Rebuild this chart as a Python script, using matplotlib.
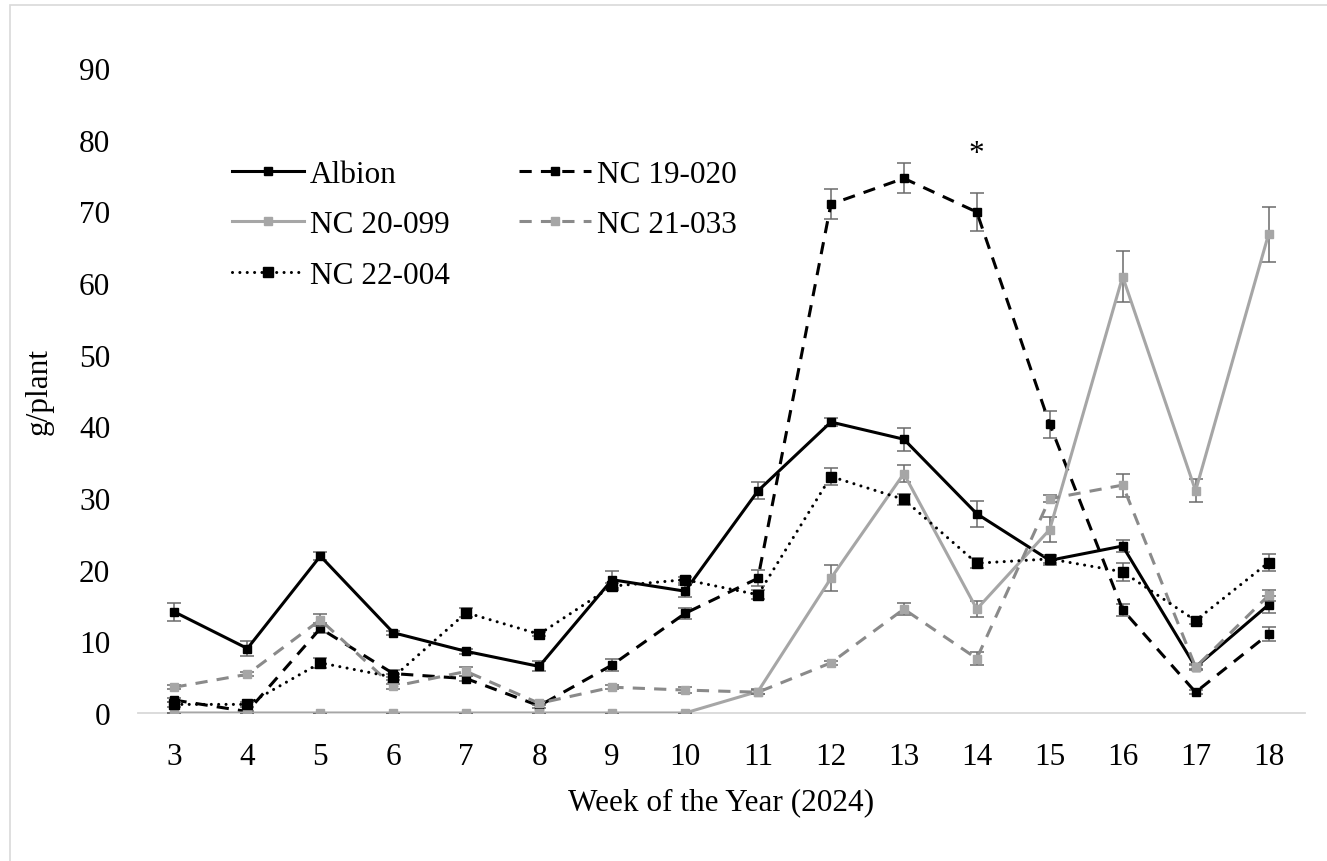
import numpy as np
import matplotlib
matplotlib.use("Agg")
import matplotlib.pyplot as plt
from matplotlib.patches import Rectangle

# weekly yield per plant
weeks = list(range(3, 19))
albion = [14.1, 9.0, 21.9, 11.2, 8.6, 6.5, 18.6, 17.0, 31.0, 40.6, 38.2, 27.8, 21.3, 23.3, 6.4, 15.1]
albion_err = [1.2, 1.1, 0.5, 0.3, 0.3, 0.7, 1.2, 0.8, 1.2, 0.6, 1.6, 1.8, 0.6, 0.9, 0.3, 1.2]
nc19 = [1.8, 0.2, 11.8, 5.5, 4.8, 1.0, 6.7, 13.9, 18.8, 71.0, 74.6, 69.9, 40.3, 14.4, 2.9, 11.0]
nc19_err = [0.3, 0.1, 0.7, 0.5, 0.3, 0.3, 0.8, 0.8, 1.1, 2.1, 2.1, 2.6, 1.9, 0.8, 0.3, 1.0]
nc20 = [0, 0, 0, 0, 0, 0, 0, 0, 3.0, 18.8, 33.4, 14.5, 25.6, 60.9, 31.0, 66.8]
nc20_err = [0, 0, 0, 0, 0, 0, 0, 0, 0.3, 1.8, 1.2, 1.1, 1.8, 3.5, 1.6, 3.8]
nc21 = [3.6, 5.4, 13.0, 3.7, 5.8, 1.35, 3.6, 3.2, 2.9, 7.0, 14.5, 7.6, 29.9, 31.8, 6.4, 16.4]
nc21_err = [0.3, 0.3, 0.8, 0.3, 0.6, 0.3, 0.3, 0.4, 0.3, 0.3, 0.8, 0.9, 0.5, 1.6, 0.4, 0.8]
nc22 = [1.2, 1.2, 7.0, 5.0, 14.0, 11.0, 17.7, 18.6, 16.5, 33.0, 29.8, 20.9, 21.5, 19.7, 12.9, 21.0]
nc22_err = [0.3, 0.3, 0.7, 0.4, 0.6, 0.3, 0.5, 0.4, 0.6, 1.25, 0.8, 0.7, 0.5, 1.3, 0.5, 1.2]

plt.rcParams['font.family'] = ['Liberation Serif', 'DejaVu Serif']
fs = 22.5

fig = plt.figure(figsize=(13.27, 8.62), dpi=100)
ax = fig.add_axes([138/1327, 1 - 714/862, (1305 - 138)/1327, (714 - 69)/862])

# light border round the whole chart
fig.patches.append(Rectangle((10/1327, -0.02), 1.05, 1 - 6/862 + 0.02,
                             transform=fig.transFigure, fill=False,
                             edgecolor='#d9d9d9', lw=1.2))

ecol = '#6b6b6b'
series = [
    ("Albion", albion, albion_err, dict(color='black', ls='-', mfc='black', mec='black', ms=5.5)),
    ("NC 19-020", nc19, nc19_err, dict(color='black', dashes=(4, 3), mfc='black', mec='black', ms=5.5)),
    ("NC 20-099", nc20, nc20_err, dict(color='#a6a6a6', ls='-', mfc='#a6a6a6', mec='#a6a6a6', ms=5.5)),
    ("NC 21-033", nc21, nc21_err, dict(color='#8a8a8a', dashes=(4, 3), mfc='#a6a6a6', mec='#a6a6a6', ms=5.5)),
    ("NC 22-004", nc22, nc22_err, dict(color='black', dashes=(0.01, 2.4), dash_capstyle='round', mfc='black', mec='black', ms=6.5)),
]

handles = {}
for i, (name, vals, err, style) in enumerate(series):
    ax.errorbar(weeks, vals, yerr=err, fmt='none', ecolor=ecol, elinewidth=1.1,
                capsize=4.7, capthick=1.1, zorder=2 + 2*i)
    ln, = ax.plot(weeks, vals, marker='s', lw=2.2, label=name, zorder=3 + 2*i, **style)
    handles[name] = ln

ax.text(14, 76, "*", ha='center', va='bottom', fontsize=fs)

ax.set_xlim(2.5, 18.5)
ax.set_ylim(0, 90)
ax.set_xticks(weeks)
ax.set_yticks(range(0, 91, 10))
ax.tick_params(length=0, labelsize=fs)
ax.tick_params(axis='y', pad=20)
ax.tick_params(axis='x', pad=21)
for s in ['top', 'right', 'left']:
    ax.spines[s].set_visible(False)
ax.spines['bottom'].set_color('#d9d9d9')
ax.spines['bottom'].set_linewidth(1.3)

ax.set_xlabel("Week of the Year (2024)", fontsize=fs)
ax.xaxis.set_label_coords(0.5, -0.115)
ax.set_ylabel("g/plant", fontsize=fs)
ax.yaxis.set_label_coords(-0.072, 0.5)

order = ["Albion", "NC 20-099", "NC 22-004", "NC 19-020", "NC 21-033"]
fig.legend([handles[n] for n in order], order, ncol=2, loc='upper left',
           bbox_to_anchor=(232/1327, 1 - 161/862), frameon=False, fontsize=fs,
           handlelength=2.3, handletextpad=0.2, columnspacing=2.2,
           labelspacing=0.68, borderpad=0, borderaxespad=0)

fig.savefig("out.png", dpi=100)
